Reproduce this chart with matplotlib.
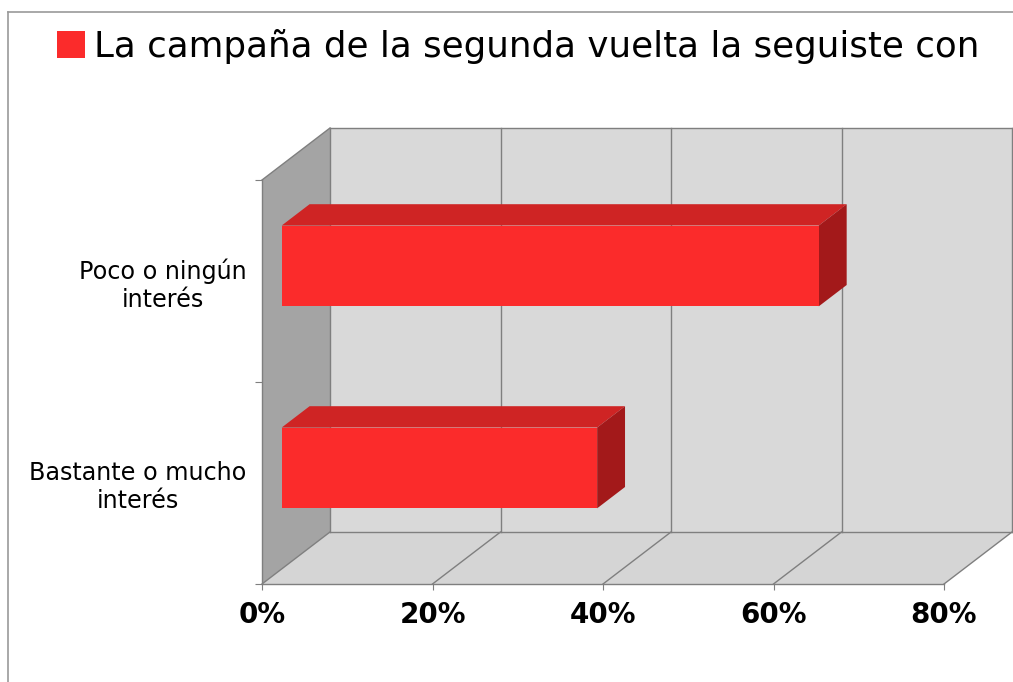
import matplotlib
matplotlib.use("Agg")
import matplotlib.pyplot as plt
from matplotlib.patches import Polygon, Patch
from matplotlib.lines import Line2D
from matplotlib.transforms import IdentityTransform

# --- data -------------------------------------------------------------
series_name = "La campaña de la segunda vuelta la seguiste con"
categories = ["Bastante o mucho\ninterés", "Poco o ningún\ninterés"]
values = [37, 63]
x_ticks = [0, 20, 40, 60, 80]
x_tick_labels = ["0%", "20%", "40%", "60%", "80%"]

# --- style ------------------------------------------------------------
W, H, DPI = 1013, 682, 100
DEPTH_DX, DEPTH_DY = 68, 52          # oblique depth offset (pixels)
BAR_D0, BAR_D1 = 0.29, 0.70          # bar depth span (fraction of depth)
BAR_HALF = 0.20                      # half bar thickness (category units)
RED_FRONT = "#fb2b2b"
RED_TOP = "#cf2424"
RED_SIDE = "#a3191a"
WALL_BACK = "#d9d9d9"
WALL_LEFT = "#a4a4a4"
FLOOR = "#d5d5d5"
EDGE = "#7f7f7f"

fig = plt.figure(figsize=(W / DPI, H / DPI), dpi=DPI)
fig.patch.set_facecolor("white")

ax = fig.add_axes([262 / W, 98 / H, 682 / W, 404 / H])
ax.set_xlim(x_ticks[0], x_ticks[-1])
ax.set_ylim(0, len(categories))
ax.patch.set_visible(False)
for s in ax.spines.values():
    s.set_visible(False)


def proj(x, y, d):
    px, py = ax.transData.transform((x, y))
    return (px + d * DEPTH_DX, py + d * DEPTH_DY)


def face(pts, color, z):
    ax.add_patch(Polygon([proj(*p) for p in pts], closed=True, facecolor=color,
                         edgecolor="none", transform=IdentityTransform(),
                         clip_on=False, zorder=z))


def edge(p0, p1, z=2, color=EDGE, lw=1.0):
    a, b = proj(*p0), proj(*p1)
    ax.add_line(Line2D([a[0], b[0]], [a[1], b[1]], color=color, lw=lw,
                       transform=IdentityTransform(), clip_on=False, zorder=z))


xmin, xmax = x_ticks[0], x_ticks[-1]
ymax = len(categories)

# walls and floor
face([(xmin, 0, 1), (xmax, 0, 1), (xmax, ymax, 1), (xmin, ymax, 1)], WALL_BACK, 1)
face([(xmin, 0, 0), (xmin, 0, 1), (xmin, ymax, 1), (xmin, ymax, 0)], WALL_LEFT, 1)
face([(xmin, 0, 0), (xmax, 0, 0), (xmax, 0, 1), (xmin, 0, 1)], FLOOR, 1)

# grid lines on back wall and floor
for xv in x_ticks:
    edge((xv, 0, 1), (xv, ymax, 1))
    edge((xv, 0, 0), (xv, 0, 1))
edge((xmin, ymax, 1), (xmax, ymax, 1))
edge((xmin, 0, 1), (xmax, 0, 1))
edge((xmin, ymax, 0), (xmin, ymax, 1))
edge((xmin, 0, 0), (xmax, 0, 0))
edge((xmin, 0, 0), (xmin, ymax, 0))

# 3D bars
for i, v in enumerate(values):
    yc = i + 0.5
    y0, y1 = yc - BAR_HALF, yc + BAR_HALF
    face([(0, y1, BAR_D0), (v, y1, BAR_D0), (v, y1, BAR_D1), (0, y1, BAR_D1)], RED_TOP, 5)
    face([(v, y0, BAR_D0), (v, y0, BAR_D1), (v, y1, BAR_D1), (v, y1, BAR_D0)], RED_SIDE, 5)
    face([(0, y0, BAR_D0), (v, y0, BAR_D0), (v, y1, BAR_D0), (0, y1, BAR_D0)], RED_FRONT, 6)

# axes ticks and labels
ax.set_xticks(x_ticks)
ax.set_xticklabels(x_tick_labels, fontsize=20, fontweight="bold")
ax.tick_params(axis="x", direction="out", length=4.5, width=0.8, color=EDGE, pad=8)
ax.set_yticks(range(ymax + 1))
ax.set_yticklabels([])
ax.tick_params(axis="y", which="major", direction="out", length=5, width=0.8, color=EDGE)
ax.set_yticks([i + 0.5 for i in range(ymax)], minor=True)
ax.set_yticklabels(categories, minor=True, fontsize=17.2, multialignment="center",
                   linespacing=1.2)
ax.tick_params(axis="y", which="minor", length=0, pad=11)

# legend as chart header
fig.legend(handles=[Patch(facecolor=RED_FRONT, edgecolor="none")], labels=[series_name],
           loc="upper left", bbox_to_anchor=(57 / W, 1 - 29 / H), frameon=False,
           fontsize=25.7, handlelength=0.78, handleheight=0.78, handletextpad=0.25,
           borderpad=0, borderaxespad=0)

# outer frame lines
fig.add_artist(Line2D([8 / W, 8 / W], [0, 1 - 12 / H], color="#9a9a9a", lw=1.2,
                      transform=fig.transFigure))
fig.add_artist(Line2D([8 / W, 1], [1 - 12 / H, 1 - 12 / H], color="#9a9a9a", lw=1.2,
                      transform=fig.transFigure))

fig.savefig("out.png", dpi=DPI, facecolor="white")
